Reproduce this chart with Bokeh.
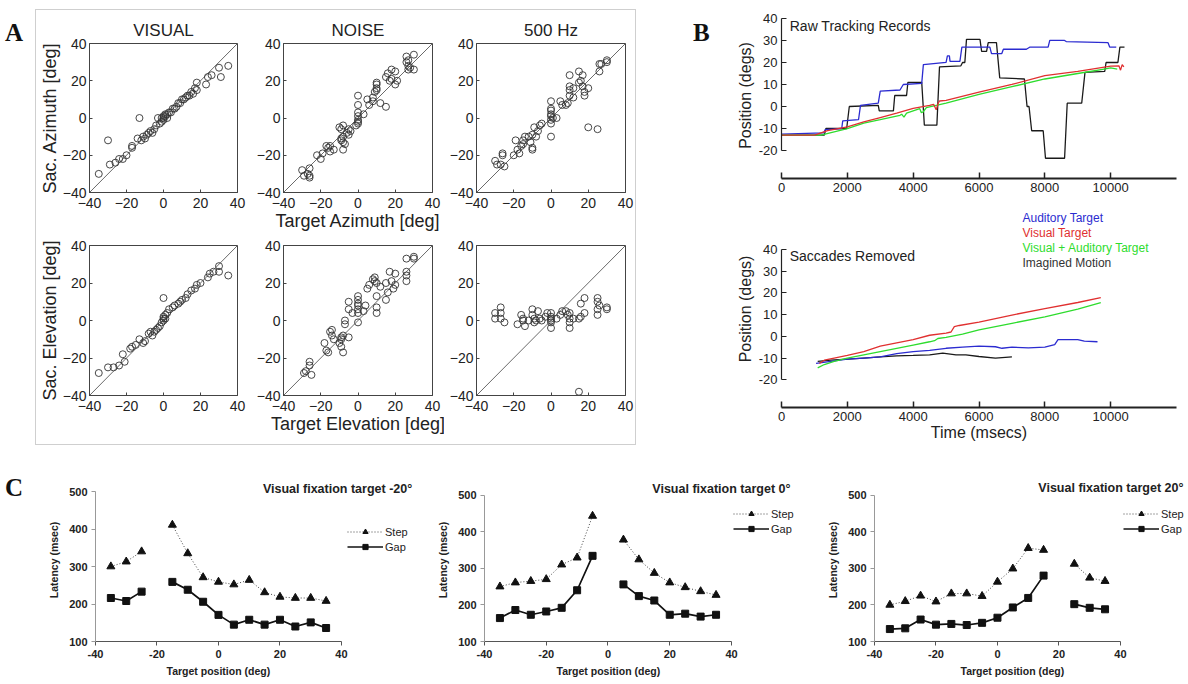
import math
from bokeh.plotting import figure
from bokeh.models import Label, Legend, LegendItem, Range1d, FixedTicker, Div, Spacer, Slope, Title
from bokeh.layouts import row, column
from bokeh.embed import file_html
from bokeh.resources import INLINE

NaN = float("nan")
SANS = "Liberation Sans"
SERIF = "Liberation Serif"

# ---------------- Panel A data (target vs saccade endpoint, deg) ----------------
vis_az_x = [-35, -30, -29, -26, -24, -22, -20, -17, -17, -14, -13, -12, -11, -10, -9, -8, -7, -6, -5, -4, -3, -2, -1, -1, 0, 0, 0, 1, 1, 2, 2, 3, 4, 5, 6, 7, 8, 9, 10, 11, 12, 13, 14, 15, 16, 17, 18, 18, 23, 24, 26, 30, 31, 35]
vis_az_y = [-30, -12, -25, -24, -22, -22, -20, -15, -16, -11, 0, -12, -10, -11, -9, -8, -7, -8, -6, -4, 0, -3, -2, 0, -1, 0, 1, 1, 2, 0, 2, 3, 3, 5, 5, 6, 8, 8, 10, 10, 11, 12, 12, 14, 13, 16, 19, 15, 18, 22, 23, 27, 22, 28]

noi_az_x = [-30, -29, -27, -26, -26, -26, -22, -20, -19, -17, -16, -15, -15, -13, -10, -9, -9, -9, -8, -8, -8, -8, -7, -6, -5, -5, -4, 0, 0, 0, 0, 0, 0, 0, -1, 3, 5, 6, 8, 9, 10, 10, 10, 10, 8, 12, 15, 15, 16, 17, 18, 18, 20, 20, 21, 26, 26, 27, 27, 27, 28, 30, 30]
noi_az_y = [-28, -31, -30, -31, -32, -27, -20, -22, -19, -15, -16, -18, -15, -17, -5, -6, -11, -12, -13, -17, -10, -4, -14, -8, -6, -9, -7, 12, 7, 3, 1, -1, -3, -2, -4, 2, 10, 7, 11, 14, 15, 18, 19, 16, 9, 8, 6, 22, 24, 20, 26, 21, 25, 18, 20, 33, 30, 31, 28, 26, 27, 34, 26]

hz_az_x = [-30, -29, -27, -26, -26, -25, -20, -19, -18, -17, -16, -15, -15, -14, -12, -11, -10, -10, -10, -9, -8, -7, -6, -5, 0, 0, 0, 0, 0, 0, 0, 0, 1, 3, 5, 6, 8, 9, 10, 10, 10, 10, 12, 12, 15, 15, 16, 17, 17, 18, 18, 20, 20, 25, 26, 26, 27, 30, 30]
hz_az_y = [-23, -25, -25, -19, -20, -26, -20, -12, -17, -19, -15, -14, -12, -10, -10, -13, -16, -17, -9, -5, -10, -7, -4, -3, 9, 5, 4, 2, 1, -1, -3, -10, 0, 0, 9, 7, 7, 8, 23, 17, 15, 12, 16, 11, 25, 19, 20, 23, 17, 14, 12, 16, -5, -6, 29, 25, 29, 30, 31]

vis_el_x = [-35, -30, -27, -24, -22, -21, -18, -17, -15, -13, -11, -10, -8, -7, -6, -5, -4, -3, -2, -1, 0, 0, 0, 1, 0, 1, 2, 3, 5, 6, 8, 9, 10, 12, 13, 15, 17, 18, 20, 24, 25, 27, 30, 30, 35]
vis_el_y = [-28, -25, -25, -24, -18, -22, -15, -14, -13, -10, -12, -11, -7, -6, -8, -6, -5, -4, -3, -1, 0, 1, 2, 3, 12, 1, 4, 6, 7, 8, 9, 10, 11, 12, 14, 16, 17, 19, 20, 23, 25, 26, 26, 29, 24]

noi_el_x = [-29, -28, -26, -26, -25, -18, -17, -16, -15, -14, -14, -13, -10, -9, -9, -9, -8, -8, -7, -7, -5, -5, -5, -3, 0, 0, 0, 0, 0, 0, 0, 3, 4, 5, 6, 8, 9, 9, 10, 10, 10, 10, 12, 15, 15, 16, 17, 18, 19, 20, 20, 26, 26, 26, 26, 30, 30]
noi_el_y = [-28, -27, -22, -24, -29, -12, -16, -17, -6, -8, -5, -10, -12, -10, -9, -14, -8, -17, -2, 0, -9, 10, 6, 4, 13, 11, 9, 8, 6, 4, -1, 5, 8, 17, 19, 22, 23, 21, 20, 4, 7, 13, 18, 20, 11, 15, 26, 21, 17, 25, 19, 33, 26, 24, 21, 34, 33]

hz_el_x = [-30, -30, -27, -27, -27, -25, -18, -16, -15, -15, -14, -12, -10, -10, -9, -9, -8, -7, -6, -5, -3, -2, 0, 0, 0, 0, 0, 0, 3, 5, 6, 8, 9, 10, 10, 10, 10, 12, 15, 16, 16, 18, 18, 15, 25, 25, 25, 25, 26, 30, 30]
hz_el_y = [4, 1, 7, 4, 1, -1, -2, 3, 1, 0, -3, 0, 6, 3, 1, -1, 0, 5, 1, 0, 2, 4, 4, 2, 0, -1, 1, -4, 1, 3, 5, 5, 3, 4, 1, -1, -4, 1, 1, 2, 9, 12, 4, -38, 12, 10, 6, 3, 8, 7, 6]

# ---------------- Panel B data (time in msec, position in deg) ----------------
raw_aud_t = [0, 1280, 1330, 1830, 1860, 2340, 2400, 2940, 3000, 3600, 3700, 4260, 4310, 5000, 5040, 5100, 5120, 5420, 5480, 6330, 6380, 6690, 6740, 7440, 7550, 8100, 8150, 8600, 8650, 9920, 9970, 10170]
raw_aud_y = [-12.5, -12, -10.5, -10, -6.5, -6, 0.5, 1.5, 7, 7.5, 10, 10.5, 19, 20, 23, 23, 20.5, 20.5, 27, 27, 24, 24, 26, 26, 27, 27, 30, 30, 29.5, 29, 27, 27]
raw_vis_t = [0, 1000, 1400, 2000, 2500, 3000, 3500, 4000, 4500, 4620, 4700, 4760, 4800, 5000, 6000, 7000, 8000, 9000, 10000, 10250, 10300, 10350, 10400]
raw_vis_y = [-13, -13, -11, -9.2, -7, -5, -3, -0.8, 0.5, 1, -1.5, 1.5, 2.5, 2.8, 6.5, 10, 14, 16, 18.3, 18.5, 16.5, 19, 18]
raw_va_t = [0, 1200, 2000, 2500, 3000, 3600, 3650, 3720, 3800, 4000, 4200, 4250, 4300, 4400, 5000, 6000, 7000, 8000, 9000, 9800, 10000, 10200]
raw_va_y = [-13, -13, -10, -7.5, -6, -4, -3.5, -4.8, -3, -2, -1, -2.8, -2.5, -0.5, 1.5, 5.5, 9, 12.5, 15, 17, 17.5, 17]
raw_img_t = [0, 1300, 1350, 1980, 2060, 2940, 2970, 3400, 3440, 3800, 3840, 4260, 4340, 4720, 4800, 5450, 5500, 5570, 5620, 6030, 6080, 6230, 6280, 6530, 6630, 7380, 7460, 7520, 7600, 7950, 8020, 8600, 8680, 9120, 9220, 9820, 9860, 10220, 10280, 10420]
raw_img_y = [-13, -13, -10, -10, 0, 0.5, -2, -2, 5, 5, 11, 11, -8.5, -8.5, 18, 18.5, 20, 20, 30.5, 30.5, 25, 25, 29, 29, 13, 12.5, 0, 0, -11, -11, -23.5, -23.5, 1.5, 1.5, 15.5, 16, 20, 20, 27, 27]

sr_aud_t = [1050, 1500, 2000, 2500, 3000, 3500, 4000, 4500, 5000, 5500, 6000, 6500, 6700, 7000, 7500, 8000, 8300, 8400, 9000, 9200, 9600]
sr_aud_y = [-12.5, -11.5, -10.5, -10, -9.5, -8, -7, -6.5, -5.5, -5, -4.5, -4.8, -5.5, -5, -5.3, -5, -3.8, -1.5, -1.5, -2.2, -2.5]
sr_vis_t = [1150, 1300, 1600, 2000, 2500, 3000, 3500, 4000, 4500, 5000, 5150, 5250, 5400, 6000, 7000, 8000, 9000, 9700]
sr_vis_y = [-12.5, -11, -10, -8.8, -7, -4.5, -3, -1.5, 0.5, 1.5, 2, 4.5, 5, 6.6, 9.8, 12.8, 15.6, 17.8]
sr_va_t = [1100, 1300, 1600, 2000, 2500, 3000, 3500, 4000, 4500, 4650, 4750, 5000, 5500, 6000, 7000, 8000, 9000, 9700]
sr_va_y = [-14.5, -13, -11.5, -10, -8.5, -7, -5.5, -4, -2.5, -2, -1, -0.5, 1, 3, 6, 9, 12.5, 15.5]
sr_img_t = [1100, 1500, 2000, 2500, 3000, 3500, 4000, 4500, 4900, 5300, 5600, 6000, 6500, 7000]
sr_img_y = [-11.5, -11, -10.5, -10, -9.5, -9, -8.8, -8.5, -7.7, -8.5, -8.5, -9.3, -10, -9.5]

# ---------------- Panel C data (latency, msec) ----------------
c_pos = [-35, -30, -25, -20, -15, -10, -5, 0, 5, 10, 15, 20, 25, 30, 35]
c1_step = [300, 313, 340, NaN, 411, 335, 271, 259, 252, 264, 231, 219, 216, 216, 208]
c1_gap = [216, 208, 233, NaN, 259, 238, 206, 171, 145, 158, 145, 158, 140, 151, 136]
c2_step = [250, 261, 265, 270, 310, 329, 443, NaN, 378, 324, 287, 261, 248, 237, 227]
c2_gap = [164, 186, 173, 182, 192, 240, 334, NaN, 256, 224, 212, 173, 176, 168, 173]
c3_step = [200, 210, 225, 209, 231, 231, 224, 263, 299, 355, 350, NaN, 312, 274, 265]
c3_gap = [134, 136, 160, 146, 148, 145, 151, 165, 193, 219, 280, NaN, 202, 192, 188]

# ======================= helpers =======================

def base_fig(width, height, xr, yr, bl, br, bt, bb, title=None):
    p = figure(width=width, height=height, x_range=xr, y_range=yr,
               min_border_left=bl, min_border_right=br, min_border_top=bt, min_border_bottom=bb,
               output_backend="svg", toolbar_location=None, title=title)
    p.grid.visible = False
    p.background_fill_color = "white"
    p.border_fill_color = "white"
    p.axis.minor_tick_line_color = None
    return p


def letter(txt, width, height, pad_top, pad_left):
    return Div(text=txt, width=width, height=height, margin=(0, 0, 0, 0),
               styles={"font-family": SERIF, "font-weight": "bold", "font-size": "25px",
                       "padding-top": "%dpx" % pad_top, "padding-left": "%dpx" % pad_left,
                       "color": "#111"})


AX_TICKS = [-40, -20, 0, 20, 40]
AX_LABELS = {-40: "\u221240", -20: "\u221220", 0: "0", 20: "20", 40: "40"}


def scatter_fig(xs, ys, width, height, bl, br, bt, bb, title=None, xlabel=None, ylabel=None):
    p = base_fig(width, height, Range1d(-40, 40), Range1d(-40, 40), bl, br, bt, bb, title=title)
    if title is not None:
        p.title.align = "center"
        p.title.text_font = SANS
        p.title.text_font_style = "normal"
        p.title.text_font_size = "17px"
        p.title.text_color = "#222"
        p.title.standoff = 8
    p.outline_line_color = "#444"
    p.outline_line_width = 1
    for ax in (p.xaxis[0], p.yaxis[0]):
        ax.ticker = FixedTicker(ticks=AX_TICKS)
        ax.major_label_overrides = AX_LABELS
        ax.major_label_text_font = SANS
        ax.major_label_text_font_size = "14px"
        ax.major_label_text_color = "#222"
        ax.major_tick_in = 3
        ax.major_tick_out = 0
        ax.major_tick_line_color = "#444"
        ax.axis_line_color = "#444"
        ax.axis_label_text_font = SANS
        ax.axis_label_text_font_style = "normal"
        ax.axis_label_text_font_size = "18px"
        ax.axis_label_text_color = "#222"
        ax.axis_label_standoff = 0
    p.xaxis.major_label_standoff = 5
    p.yaxis.major_label_standoff = 3
    if xlabel:
        p.xaxis.axis_label = xlabel
    if ylabel:
        p.yaxis.axis_label = ylabel
    p.add_layout(Slope(gradient=1, y_intercept=0, line_color="#444", line_width=0.8))
    p.scatter(xs, ys, marker="circle", size=7, fill_color=None, line_color="#333", line_width=0.9)
    return p


# ---- Panel A: 2 x 3 grid inside a light frame ----
a11 = scatter_fig(vis_az_x, vis_az_y, 214, 226, 52, 13, 33, 44, title="VISUAL", ylabel="Sac. Azimuth [deg]")
a12 = scatter_fig(noi_az_x, noi_az_y, 194, 226, 33, 12, 33, 44, title="NOISE", xlabel="Target Azimuth [deg]")
a13 = scatter_fig(hz_az_x, hz_az_y, 191, 226, 32, 10, 33, 44, title="500 Hz")
a21 = scatter_fig(vis_el_x, vis_el_y, 214, 208, 52, 13, 9, 49, ylabel="Sac. Elevation [deg]")
a22 = scatter_fig(noi_el_x, noi_el_y, 194, 208, 33, 12, 9, 49, xlabel="Target Elevation [deg]")
a23 = scatter_fig(hz_el_x, hz_el_y, 191, 208, 32, 10, 9, 49)

panel_a = column(row(a11, a12, a13), row(a21, a22, a23),
                 styles={"border": "1px solid #cfcfcf"})
block_a = column(Spacer(width=601, height=9), panel_a)

# ---- Panel B ----
B_COLORS = {"aud": "#2b2bd0", "vis": "#e03030", "va": "#2edc2e", "img": "#1a1a1a"}


def track_fig(height, bt, bb, ymin, ymax, xlabel=None):
    p = base_fig(468, height, Range1d(0, 12000), Range1d(ymin, ymax), 61, 12, bt, bb)
    p.outline_line_color = None
    p.xaxis.bounds = (0, 12000)
    p.yaxis.bounds = (-20, 40)
    p.xaxis.ticker = FixedTicker(ticks=[0, 2000, 4000, 6000, 8000, 10000])
    p.yaxis.ticker = FixedTicker(ticks=[-20, -10, 0, 10, 20, 30, 40])
    p.yaxis.major_label_overrides = {-20: "-20", -10: "-10"}
    for ax in (p.xaxis[0], p.yaxis[0]):
        ax.major_label_text_font = SANS
        ax.major_label_text_font_size = "13px"
        ax.major_label_text_color = "#222"
        ax.major_tick_out = 0
        ax.major_tick_line_color = "#222"
        ax.axis_line_color = "#222"
        ax.axis_label_text_font = SANS
        ax.axis_label_text_font_style = "normal"
        ax.axis_label_text_font_size = "16px"
        ax.axis_label_text_color = "#222"
        ax.axis_label_standoff = 2
    p.xaxis.major_tick_in = 6
    p.xaxis.axis_line_width = 2
    p.xaxis.major_tick_line_width = 1.5
    p.xaxis.major_label_standoff = 4
    p.xaxis.axis_label_standoff = 0
    p.yaxis.major_tick_in = 5
    p.yaxis.axis_line_width = 1.2
    p.yaxis.major_label_standoff = 4
    p.yaxis.axis_label = "Position (degs)"
    if xlabel:
        p.xaxis.axis_label = xlabel
    return p


b1 = track_fig(205, 12, 27, -32.7, 42.7)
b1.line(raw_img_t, raw_img_y, line_color=B_COLORS["img"], line_width=1.3)
b1.line(raw_aud_t, raw_aud_y, line_color=B_COLORS["aud"], line_width=1.3)
b1.line(raw_va_t, raw_va_y, line_color=B_COLORS["va"], line_width=1.3)
b1.line(raw_vis_t, raw_vis_y, line_color=B_COLORS["vis"], line_width=1.3)
b1.add_layout(Label(x=250, y=36.4, text="Raw Tracking Records", text_font=SANS,
                    text_font_size="14px", text_baseline="middle", text_color="#222"))

b2 = track_fig(245, 5, 43, -32.8, 58.0, xlabel="Time (msecs)")
b2.line(sr_img_t, sr_img_y, line_color=B_COLORS["img"], line_width=1.3)
b2.line(sr_aud_t, sr_aud_y, line_color=B_COLORS["aud"], line_width=1.3)
b2.line(sr_va_t, sr_va_y, line_color=B_COLORS["va"], line_width=1.3)
b2.line(sr_vis_t, sr_vis_y, line_color=B_COLORS["vis"], line_width=1.3)
b2.add_layout(Label(x=250, y=37.2, text="Saccades Removed", text_font=SANS,
                    text_font_size="14px", text_baseline="middle", text_color="#222"))
leg_names = ["Auditory Target", "Visual Target", "Visual + Auditory Target", "Imagined Motion"]
leg_cols = [B_COLORS["aud"], B_COLORS["vis"], B_COLORS["va"], "#333"]
leg_ys = [54.7, 47.8, 40.9, 33.8]
for name, col, yy in zip(leg_names, leg_cols, leg_ys):
    b2.add_layout(Label(x=7322, y=yy, text=name, text_font=SANS, text_font_size="12px",
                        text_baseline="middle", text_color=col))

block_b = row(letter("B", 30, 60, 15, 3), column(b1, b2))

# ---- Panel C ----

def lat_fig(width, bl, br, bt, xmax, ymax, step, gap, title, title_x, title_y, leg_xy, xlab_offset):
    p = base_fig(width, 234, Range1d(-40, xmax), Range1d(100, ymax), bl, br, bt, 43)
    p.outline_line_color = None
    p.xaxis.bounds = (-40, 40)
    p.yaxis.bounds = (100, 500)
    p.xaxis.ticker = FixedTicker(ticks=[-40, -20, 0, 20, 40])
    p.yaxis.ticker = FixedTicker(ticks=[100, 200, 300, 400, 500])
    p.xaxis.major_label_overrides = {-40: "-40", -20: "-20"}
    for ax in (p.xaxis[0], p.yaxis[0]):
        ax.major_label_text_font = SANS
        ax.major_label_text_font_style = "bold"
        ax.major_label_text_font_size = "11px"
        ax.major_label_text_color = "#222"
        ax.major_tick_in = 0
        ax.major_tick_out = 4
        ax.major_label_standoff = 4
        ax.axis_label_text_font = SANS
        ax.axis_label_text_font_style = "bold"
        ax.axis_label_text_font_size = "10.5px"
        ax.axis_label_text_color = "#222"
    p.yaxis.axis_label_standoff = 6
    p.xaxis.axis_line_color = "#555"
    p.xaxis.major_tick_line_color = "#555"
    p.yaxis.axis_line_color = "#999"
    p.yaxis.major_tick_line_color = "#999"
    p.yaxis.axis_label = "Latency (msec)"
    # x-axis caption, centred under the -40..40 axis
    p.add_layout(Title(text="Target position (deg)", align="left", offset=xlab_offset, standoff=4,
                       text_font=SANS, text_font_style="bold", text_font_size="10.5px",
                       text_color="#222"), "below")
    rs = p.line(c_pos, step, line_color="#444", line_width=1, line_dash="1 2")
    ms = p.scatter(c_pos, step, marker="triangle", size=8, color="#111")
    rg = p.line(c_pos, gap, line_color="#111", line_width=1.7)
    mg = p.scatter(c_pos, gap, marker="square", size=7, color="#111")
    leg = Legend(items=[LegendItem(label="Step", renderers=[rs, ms]),
                        LegendItem(label="Gap", renderers=[rg, mg])],
                 location=leg_xy, orientation="vertical", padding=0, margin=0, spacing=2,
                 glyph_width=36, glyph_height=13, label_height=13, label_standoff=2,
                 label_text_font=SANS, label_text_font_size="11px", label_text_color="#222",
                 border_line_color=None, background_fill_alpha=0)
    p.add_layout(leg)
    p.add_layout(Label(x=title_x, y=title_y, text=title, text_font=SANS, text_font_style="bold",
                       text_font_size="12.5px", text_align="right", text_baseline="middle",
                       text_color="#222"))
    return p


c1 = lat_fig(400, 65, 18, 28, 63.1, 534.7, c1_step, c1_gap,
             "Visual fixation target -20\u00b0", 63.0, 508, (252, 88), 71)
c2 = lat_fig(388, 54, 18, 24, 62.35, 545.3, c2_step, c2_gap,
             "Visual fixation target 0\u00b0", 59.1, 516, (249, 106), 72)
c3 = lat_fig(370, 56, 2, 24, 61.5, 545.3, c3_step, c3_gap,
             "Visual fixation target 20\u00b0", 60.5, 518.7, (249, 106), 86)

top = row(letter("A", 35, 60, 15, 5), block_a, Spacer(width=54, height=10), block_b)
bottom = row(letter("C", 30, 60, 20, 5), c1, c2, c3)
layout = column(top, bottom)

open("out.html", "w").write(file_html(layout, INLINE))
